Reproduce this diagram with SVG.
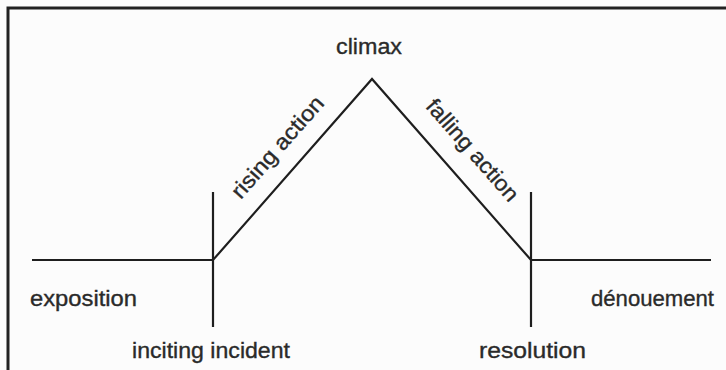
<svg xmlns="http://www.w3.org/2000/svg" width="726" height="370" viewBox="0 0 726 370">
<style>
.ln{stroke:#1e1e1e;stroke-width:2.2;fill:none;stroke-linecap:butt;stroke-linejoin:miter}
.lb{font-family:"Liberation Sans",Arial,sans-serif;font-size:22px;fill:#2a2a2a;stroke:#2a2a2a;stroke-width:0.35}
</style>
<rect x="0" y="0" width="726" height="370" fill="#fcfcfc"/>
<path d="M8 370 V8 H726" fill="none" stroke="#222" stroke-width="3"/>
<g id="connectors">
<path class="ln" d="M32 260 H213 L372 79 L531 260 H711"/>
<path class="ln" d="M213 192 V327"/>
<path class="ln" d="M531 192 V327"/>
</g>
<g id="climax"><text class="lb" x="369" y="54" text-anchor="middle" textLength="66" lengthAdjust="spacingAndGlyphs">climax</text></g>
<g id="rising"><text class="lb" transform="translate(283,152) rotate(-48.7)" x="0" y="0" text-anchor="middle" textLength="128" lengthAdjust="spacingAndGlyphs">rising action</text></g>
<g id="falling"><text class="lb" transform="translate(467,155) rotate(48.7)" x="0" y="0" text-anchor="middle" textLength="128" lengthAdjust="spacingAndGlyphs">falling action</text></g>
<g id="exposition"><text class="lb" x="30" y="306" textLength="107" lengthAdjust="spacingAndGlyphs">exposition</text></g>
<g id="inciting"><text class="lb" x="132" y="358" textLength="158" lengthAdjust="spacingAndGlyphs">inciting incident</text></g>
<g id="resolution"><text class="lb" x="479" y="358" textLength="107" lengthAdjust="spacingAndGlyphs">resolution</text></g>
<g id="denouement"><text class="lb" x="591" y="306" textLength="123" lengthAdjust="spacingAndGlyphs">dénouement</text></g>
</svg>
